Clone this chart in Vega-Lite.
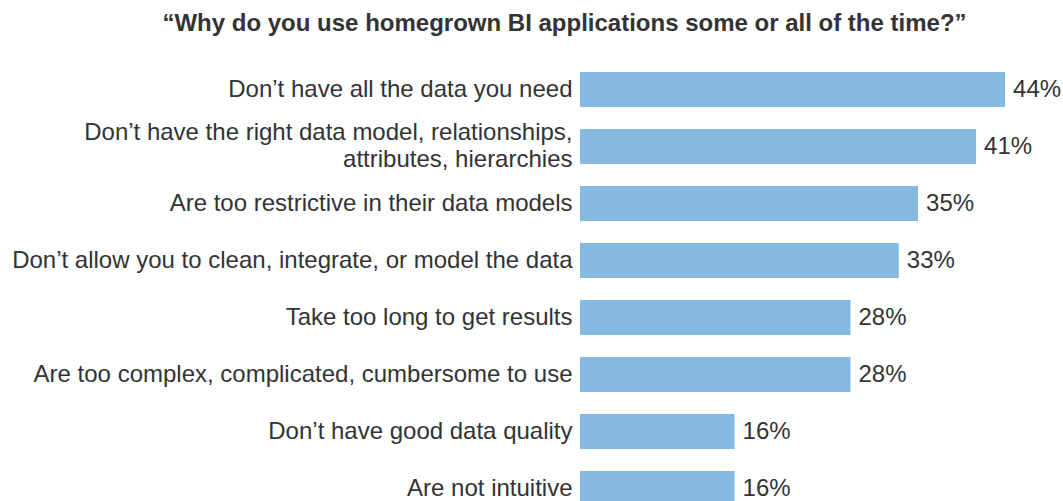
{
  "$schema": "https://vega.github.io/schema/vega-lite/v6.json",
  "autosize": "none",
  "padding": {"left": 580, "top": 61, "right": 0, "bottom": 0},
  "width": 483,
  "height": 456,
  "background": "white",
  "config": {"view": {"stroke": null}, "font": "Liberation Sans"},
  "title": {
    "text": "“Why do you use homegrown BI applications some or all of the time?”",
    "font": "Liberation Sans",
    "fontSize": 24,
    "fontWeight": "bold",
    "color": "#333333",
    "anchor": "middle",
    "frame": "group",
    "dx": -257,
    "offset": 25
  },
  "data": {
    "values": [
      {"reason": "Don’t have all the data you need", "share": 0.44},
      {"reason": "Don’t have the right data model, relationships,\nattributes, hierarchies", "share": 0.41},
      {"reason": "Are too restrictive in their data models", "share": 0.35},
      {"reason": "Don’t allow you to clean, integrate, or model the data", "share": 0.33},
      {"reason": "Take too long to get results", "share": 0.28},
      {"reason": "Are too complex, complicated, cumbersome to use", "share": 0.28},
      {"reason": "Don’t have good data quality", "share": 0.16},
      {"reason": "Are not intuitive", "share": 0.16}
    ]
  },
  "encoding": {
    "y": {
      "field": "reason",
      "type": "nominal",
      "sort": null,
      "scale": {"paddingInner": 0.386, "paddingOuter": 0.193},
      "axis": {
        "title": null,
        "domain": false,
        "ticks": false,
        "labelPadding": 8,
        "labelFontSize": 24,
        "labelFont": "Liberation Sans",
        "labelColor": "#333333",
        "labelLimit": 0,
        "labelLineHeight": 27,
        "labelOffset": {"condition": {"test": "indexof(datum.value, '\\n') >= 0", "value": -14}, "value": 0},
        "labelExpr": "split(datum.label, '\\n')"
      }
    },
    "x": {
      "field": "share",
      "type": "quantitative",
      "scale": {"domain": [0, 0.5]},
      "axis": null
    }
  },
  "layer": [
    {"mark": {"type": "bar", "color": "#85b9e0"}},
    {
      "mark": {"type": "text", "align": "left", "baseline": "middle", "dx": 8, "fontSize": 24, "font": "Liberation Sans", "color": "#333333"},
      "encoding": {"text": {"field": "share", "type": "quantitative", "format": ".0%"}}
    }
  ]
}
